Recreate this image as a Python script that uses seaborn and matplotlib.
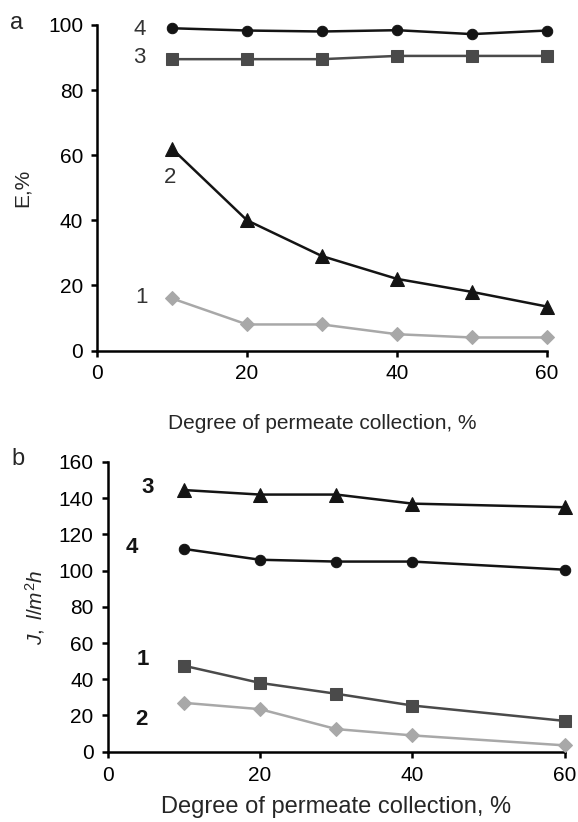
import matplotlib
matplotlib.use("Agg")
import matplotlib.pyplot as plt
import seaborn as sns
import pandas as pd

# ---- data ----
x_top = [10, 20, 30, 40, 50, 60]
e_s1 = [16, 8, 8, 5, 4, 4]
e_s2 = [62, 40, 29, 22, 18, 13.5]
e_s3 = [89.5, 89.5, 89.5, 90.5, 90.5, 90.5]
e_s4 = [99, 98.3, 98, 98.4, 97.2, 98.3]

x_bot = [10, 20, 30, 40, 60]
j_s1 = [47.5, 38, 32, 25.5, 17]
j_s2 = [27, 23.5, 12.5, 9, 3.5]
j_s3 = [144.5, 142, 142, 137, 135]
j_s4 = [112, 106, 105, 105, 100.5]

sns.set_style("ticks")
plt.rcParams["font.family"] = ["Liberation Sans", "DejaVu Sans"]
plt.rcParams["mathtext.fontset"] = "custom"
plt.rcParams["mathtext.it"] = "Liberation Sans:italic"
plt.rcParams["mathtext.rm"] = "Liberation Sans"

fig = plt.figure(figsize=(5.78, 8.22), dpi=100)
ax1 = fig.add_axes([0.1678, 0.5736, 0.7786, 0.396])
ax2 = fig.add_axes([0.186, 0.0855, 0.7915, 0.3525])

BLACK = "#141414"
DARK = "#4a4a4a"
LIGHT = "#a8a8a8"


def series(ax, x, y, color, marker, ms, lw=1.8):
    df = pd.DataFrame({"x": x, "y": y})
    sns.lineplot(data=df, x="x", y="y", ax=ax, color=color, marker=marker,
                 markersize=ms, markeredgecolor=color, linewidth=lw,
                 clip_on=False, zorder=3)


# panel a
series(ax1, x_top, e_s1, LIGHT, "D", 7.5)
series(ax1, x_top, e_s2, BLACK, "^", 10)
series(ax1, x_top, e_s3, DARK, "s", 9)
series(ax1, x_top, e_s4, BLACK, "o", 7.5)

ax1.set_xlim(0, 60)
ax1.set_ylim(0, 100)
ax1.set_xticks([0, 20, 40, 60])
ax1.set_yticks([0, 20, 40, 60, 80, 100])
ax1.set_xlabel("Degree of permeate collection, %", fontsize=15, labelpad=22)
ax1.set_ylabel("E,%", fontsize=15, labelpad=12)

for txt, (tx, ty) in zip(["4", "3", "2", "1"],
                         [(5.7, 98.6), (5.7, 89.9), (9.7, 53), (5.9, 16.3)]):
    ax1.text(tx, ty, txt, fontsize=16, color="#333333", ha="center", va="center")

# panel b
series(ax2, x_bot, j_s1, DARK, "s", 9)
series(ax2, x_bot, j_s2, LIGHT, "D", 7.5)
series(ax2, x_bot, j_s3, BLACK, "^", 10)
series(ax2, x_bot, j_s4, BLACK, "o", 7.5)

ax2.set_xlim(0, 60)
ax2.set_ylim(0, 160)
ax2.set_xticks([0, 20, 40, 60])
ax2.set_yticks(list(range(0, 161, 20)))
ax2.set_xlabel("Degree of permeate collection, %", fontsize=17, labelpad=8)
ax2.set_ylabel(r"$J,\ l/m^{2}h$", fontsize=15, labelpad=8)

for txt, (tx, ty) in zip(["3", "4", "1", "2"],
                         [(5.3, 146), (3.2, 112.5), (4.6, 51), (4.5, 18)]):
    ax2.text(tx, ty, txt, fontsize=16, fontweight="bold", color=BLACK,
             ha="center", va="center")

for ax in (ax1, ax2):
    sns.despine(ax=ax)
    for s in ("left", "bottom"):
        ax.spines[s].set_linewidth(1.8)
        ax.spines[s].set_color("black")
    ax.tick_params(direction="out", length=4, width=1.8, labelsize=15,
                   colors="black", pad=6)

fig.text(0.029, 0.972, "a", fontsize=17, ha="center", va="center")
fig.text(0.031, 0.441, "b", fontsize=17, ha="center", va="center")

fig.savefig("out.png", dpi=100)
